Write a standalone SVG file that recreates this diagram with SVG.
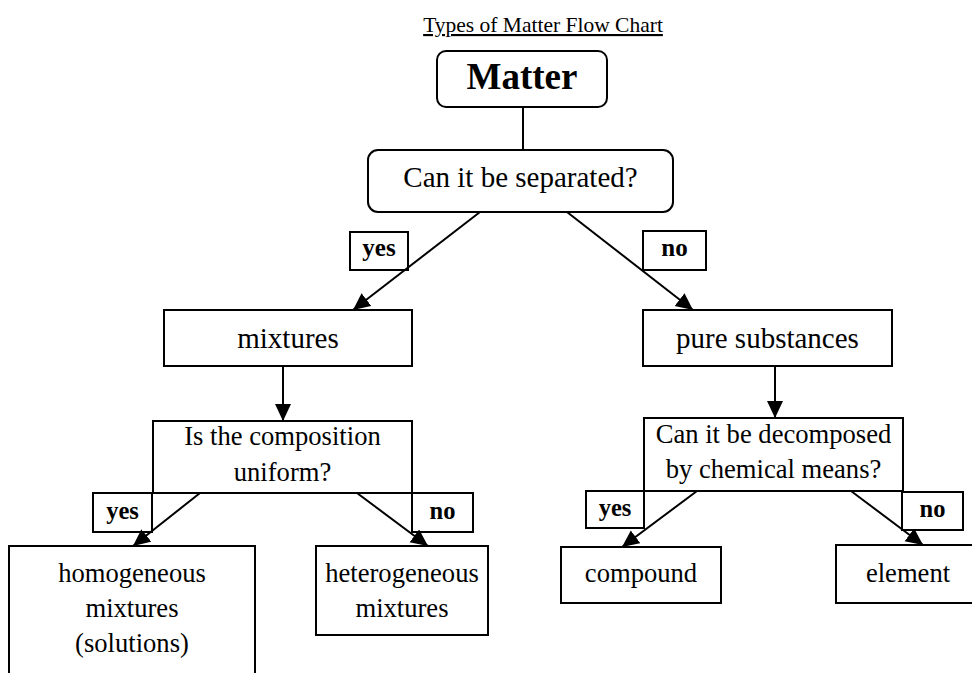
<svg xmlns="http://www.w3.org/2000/svg" width="972" height="673" viewBox="0 0 972 673" font-family="Liberation Serif, Times New Roman, serif">
<defs>
<marker id="ah" markerUnits="userSpaceOnUse" markerWidth="20" markerHeight="18" refX="17" refY="8" orient="auto">
<path d="M0,0 L17,8 L0,16 z" fill="#000"/>
</marker>
<style>
.box{fill:#fff;stroke:#000;stroke-width:2}
.c{stroke:#000;stroke-width:2;fill:none}
.a{stroke:#000;stroke-width:2;fill:none;marker-end:url(#ah)}
</style>
</defs>
<rect width="972" height="673" fill="#fff"/>
<g id="title">
<text x="543" y="32" font-size="21.5" text-anchor="middle" text-decoration="underline">Types of Matter Flow Chart</text>
</g>
<g id="matter">
<rect class="box" x="437" y="51" width="170" height="56" rx="9"/>
<text x="522" y="89" font-size="37" font-weight="bold" text-anchor="middle">Matter</text>
</g>
<g font-size="29" text-anchor="middle" fill="#000">
<g id="separated">
<rect class="box" x="368" y="150" width="305" height="62" rx="10"/>
<text x="520.5" y="187">Can it be separated?</text>
</g>
<g id="mixtures">
<rect class="box" x="164" y="310" width="248" height="56"/>
<text x="288" y="348">mixtures</text>
</g>
<g id="pure">
<rect class="box" x="643" y="310" width="249" height="56"/>
<text x="767.5" y="348">pure substances</text>
</g>
</g>
<g font-size="26.6" text-anchor="middle" fill="#000">
<g id="uniform">
<rect class="box" x="153" y="421" width="259" height="72"/>
<text x="282.5" y="445">Is the composition</text>
<text x="282.5" y="481">uniform?</text>
</g>
<g id="decomposed">
<rect class="box" x="644" y="418" width="259" height="73"/>
<text x="773.5" y="443">Can it be decomposed</text>
<text x="773.5" y="478">by chemical means?</text>
</g>
<g id="homogeneous">
<rect class="box" x="9" y="546" width="246" height="140"/>
<text x="132" y="582">homogeneous</text>
<text x="132" y="617">mixtures</text>
<text x="132" y="652">(solutions)</text>
</g>
<g id="heterogeneous">
<rect class="box" x="316" y="546" width="172" height="89"/>
<text x="402" y="582">heterogeneous</text>
<text x="402" y="617">mixtures</text>
</g>
<g id="compound">
<rect class="box" x="561" y="547" width="160" height="56"/>
<text x="641" y="582">compound</text>
</g>
<g id="element">
<rect class="box" x="836" y="545" width="150" height="58"/>
<text x="908" y="582">element</text>
</g>
</g>
<g font-weight="bold" text-anchor="middle" fill="#000">
<g id="yes1" font-size="25">
<rect class="box" x="350" y="232" width="58" height="38"/>
<text x="379" y="256">yes</text>
</g>
<g id="no1" font-size="25">
<rect class="box" x="643" y="231" width="63" height="39"/>
<text x="674.5" y="256">no</text>
</g>
<g id="yes2" font-size="24.5">
<rect class="box" x="93" y="493" width="59" height="39"/>
<text x="122.5" y="519">yes</text>
</g>
<g id="no2" font-size="24.5">
<rect class="box" x="412" y="493" width="61" height="39"/>
<text x="442.5" y="519">no</text>
</g>
<g id="yes3" font-size="24.5">
<rect class="box" x="586" y="491" width="58" height="37"/>
<text x="615" y="516">yes</text>
</g>
<g id="no3" font-size="24.5">
<rect class="box" x="902" y="492" width="61" height="38"/>
<text x="932.5" y="517">no</text>
</g>
</g>
<g id="connectors">
<line class="c" x1="523" y1="107" x2="523" y2="150"/>
<line class="a" x1="480" y1="212" x2="353" y2="310"/>
<line class="a" x1="567" y1="212" x2="693" y2="310"/>
<line class="a" x1="283" y1="366" x2="283" y2="421"/>
<line class="a" x1="775" y1="366" x2="775" y2="418"/>
<line class="a" x1="200" y1="493" x2="133" y2="546"/>
<line class="a" x1="357" y1="493" x2="428" y2="546"/>
<line class="a" x1="697" y1="491" x2="622" y2="547"/>
<line class="a" x1="851" y1="491" x2="923" y2="545"/>
</g>
</svg>
